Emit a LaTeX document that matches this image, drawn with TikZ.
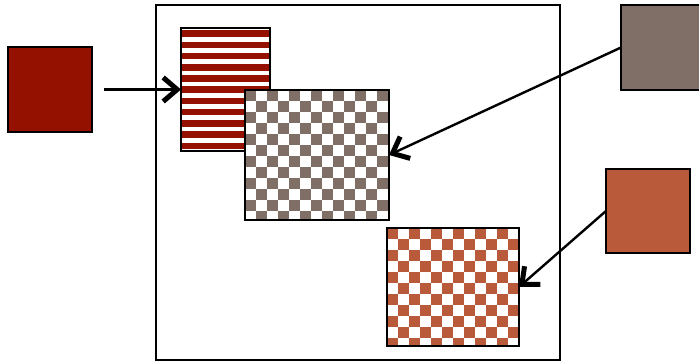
\documentclass[tikz,border=0pt]{standalone}
\usepackage{tikz}
\usetikzlibrary{arrows.meta}
\definecolor{blkRed}{HTML}{941100}
\definecolor{blkGray}{HTML}{7F6F67}
\definecolor{blkRust}{HTML}{B95A3A}

\begin{document}
\begin{tikzpicture}[x=1pt,y=-1pt,
  blk/.style={draw=black,line width=2.6pt,inner sep=0pt,outer sep=0pt},
  striped/.style={blk,fill=white,path picture={
      \foreach \i in {0,...,10}
        \fill[#1] ([yshift={-\i*11.2pt-2.5pt}]path picture bounding box.north west) rectangle ++(100,6.5);}},
  checker/.style={blk,fill=white,path picture={
      \foreach \r in {0,...,12}
        \foreach \c in {0,2,...,14}
          \fill[#1] ([xshift={(\c+mod(\r,2))*11pt},yshift={-\r*11pt}]path picture bounding box.north west) rectangle ++(11,11);}},
  arr/.style={-{Straight Barb[length=14pt,width=24pt,line width=5pt]},line width=2.4pt}]
  \useasboundingbox (0,0) rectangle (699,361);
  \node[blk,line width=2.2pt,minimum width=404pt,minimum height=355pt] (frame) at (358,182.5) {};

  \node[blk,fill=blkRed,minimum width=84pt,minimum height=85pt]  (redblk)  at (50,89.5) {};
  \node[blk,fill=blkGray,minimum width=82pt,minimum height=85pt] (grayblk) at (662,47.5) {};
  \node[blk,fill=blkRust,minimum width=84pt,minimum height=84pt] (rustblk) at (648,211) {};

  \node[striped=blkRed,minimum width=89pt,minimum height=123pt]   (stripes) at (225.5,89.5) {};
  \node[checker=blkGray,minimum width=144pt,minimum height=130pt] (graychk) at (317,155) {};
  \node[checker=blkRust,minimum width=132pt,minimum height=118pt] (rustchk) at (453,287) {};

  \draw[arr,shorten <=12pt] (redblk) -- (stripes);
  \draw[arr] (grayblk.west) -- (graychk.east);
  \draw[arr] (rustblk.west) -- (rustchk.east);
\end{tikzpicture}
\end{document}
